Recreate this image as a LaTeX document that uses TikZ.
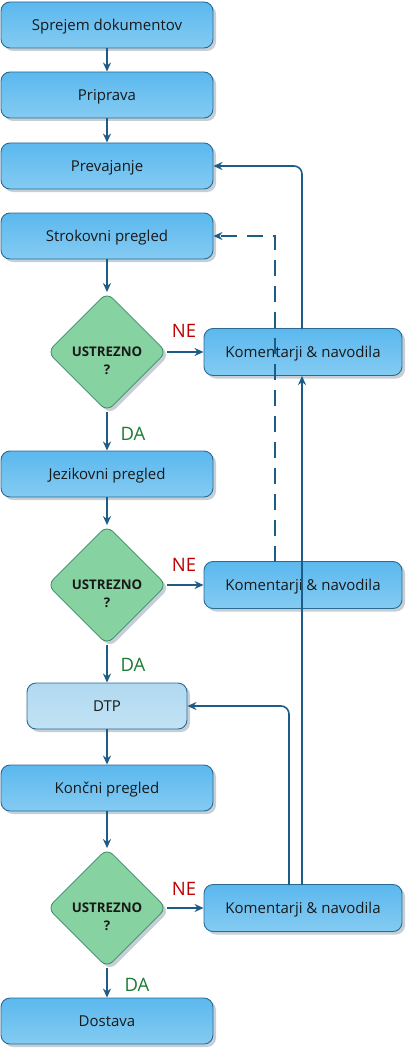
\documentclass[tikz,border=0pt]{standalone}
\usepackage{fontspec}
\setmainfont{Open Sans}
\usetikzlibrary{shapes.geometric,arrows.meta,shadows}
\definecolor{bdr}{HTML}{2B6A93}
\definecolor{btop}{HTML}{5BB8EE}
\definecolor{bbot}{HTML}{84CBF2}
\definecolor{ltop}{HTML}{B0D9F0}
\definecolor{lbot}{HTML}{C2E2F4}
\definecolor{gfill}{HTML}{86D2A0}
\definecolor{gbdr}{HTML}{3C8A6C}
\definecolor{arr}{HTML}{1D5C87}
\definecolor{nered}{HTML}{C00000}
\definecolor{dagreen}{HTML}{1E7B35}
\tikzset{
  x=1pt,y=-1pt,
  shd/.style={drop shadow={shadow xshift=3pt,shadow yshift=-3pt,fill=bdr!45!gray,opacity=0.35}},
  procbox/.style={shd,rectangle,rounded corners=9pt,draw=bdr,line width=0.9pt,
    top color=btop,bottom color=bbot,minimum width=212pt,minimum height=46pt,
    text height=12pt,text depth=1.4pt,
    font=\fontsize{15}{16}\selectfont,text=black!90},
  combox/.style={procbox,minimum width=198pt,minimum height=47pt},
  dtpbox/.style={procbox,top color=ltop,bottom color=lbot,minimum width=160pt},
  decis/.style={shd,diamond,aspect=1,rounded corners=8pt,draw=gbdr,line width=0.8pt,
    fill=gfill,minimum size=119pt,inner sep=0pt},
  dtext/.style={align=center,inner sep=0pt,
    font=\bfseries\fontsize{13.3}{17.5}\selectfont,text=black!90},
  flow/.style={draw=arr,line width=1.6pt,-{Stealth[length=9pt,width=8pt]}},
  nelab/.style={text=nered,font=\fontsize{18.5}{20}\selectfont},
  dalab/.style={text=dagreen,font=\fontsize{18.5}{20}\selectfont},
}
\begin{document}
\begin{tikzpicture}
\useasboundingbox (0,0) rectangle (405,1051);
\node[procbox] (s1) at (107,25) {Sprejem dokumentov};
\node[procbox] (s2) at (107,95) {Priprava};
\node[procbox] (s3) at (107,166) {Prevajanje};
\node[procbox] (s4) at (107,236) {Strokovni pregled};
\node[decis] (d1) at (107,352) {};
\node[dtext] (t1) at (107,361) {USTREZNO\\?};
\node[combox] (k1) at (303,352) {Komentarji \& navodila};
\node[procbox] (s5) at (107,474) {Jezikovni pregled};
\node[decis] (d2) at (107,585) {};
\node[dtext] (t2) at (107,594) {USTREZNO\\?};
\node[combox] (k2) at (303,585) {Komentarji \& navodila};
\node[dtpbox] (dtp) at (107,706) {DTP};
\node[procbox] (s6) at (107,788) {Končni pregled};
\node[decis] (d3) at (107,908) {};
\node[dtext] (t3) at (107,917) {USTREZNO\\?};
\node[combox] (k3) at (303,908) {Komentarji \& navodila};
\node[procbox] (s7) at (107,1021) {Dostava};

\draw[flow] (s1) -- (s2);
\draw[flow] (s2) -- (s3);
\draw[flow] (s4) -- (d1);
\draw[flow] (d1) -- (k1);
\draw[flow] (d1) -- (s5);
\draw[flow] (s5) -- (d2);
\draw[flow] (d2) -- (k2);
\draw[flow] (d2) -- (dtp);
\draw[flow] (dtp) -- (s6);
\draw[flow] (s6) -- (d3);
\draw[flow] (d3) -- (k3);
\draw[flow] (d3) -- (s7);

\coordinate (k1t) at (302,329);
\coordinate (k2t) at (275,562);
\coordinate (k3a) at (289,885);
\coordinate (k3b) at (302,885);
\coordinate (k1b) at (302,376);
\draw[flow,rounded corners=8pt] (k1t) |- (s3.east);
\draw[flow,dash pattern=on 16pt off 10pt] (k2t) |- (s4.east);
\draw[flow] (k3b) -- (k1b);
\draw[flow,rounded corners=8pt] (k3a) |- (dtp.east);

\node[nelab] (ne1) at (184,331) {NE};
\node[dalab] (da1) at (133,434) {DA};
\node[nelab] (ne2) at (184,565) {NE};
\node[dalab] (da2) at (133,665) {DA};
\node[nelab] (ne3) at (184,889) {NE};
\node[dalab] (da3) at (137,985) {DA};
\end{tikzpicture}
\end{document}
